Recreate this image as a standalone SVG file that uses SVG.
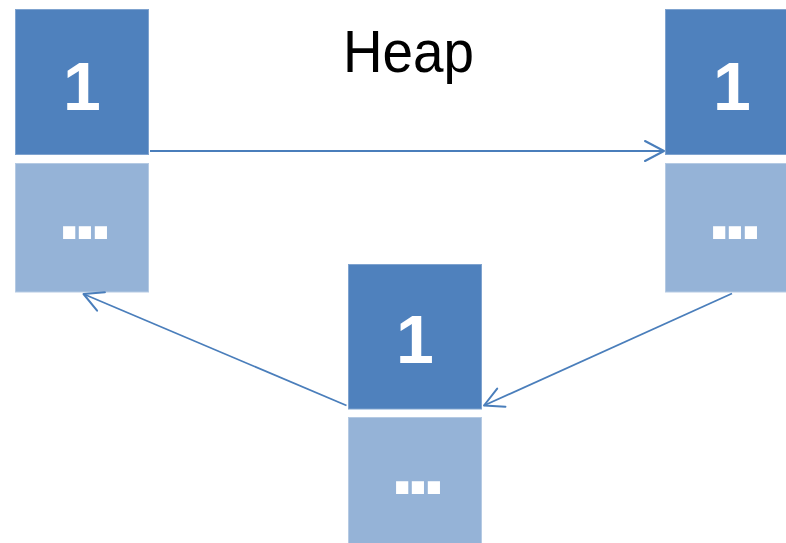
<svg xmlns="http://www.w3.org/2000/svg" width="786" height="543" viewBox="0 0 786 543">
<style>
.top{fill:#4F81BD;stroke:#7FA3CF;stroke-width:1}
.bot{fill:#95B3D7;stroke:#B5CAE3;stroke-width:1}
.num{font-family:"Liberation Sans",Arial,sans-serif;font-weight:bold;font-size:68px;fill:#ffffff;text-anchor:middle}
.dots{font-family:"Liberation Sans",Arial,sans-serif;font-weight:bold;font-size:86px;fill:#ffffff;text-anchor:middle;letter-spacing:-8px}
.title{font-family:"Liberation Sans",Arial,sans-serif;font-size:59px;fill:#000000}
.conn{stroke:#4A7EBB;stroke-width:1.8;fill:none}
</style>
<defs>
<marker id="arr" markerUnits="userSpaceOnUse" markerWidth="40" markerHeight="40" refX="0" refY="0" viewBox="-25 -20 30 40" orient="auto" overflow="visible">
<path d="M-19,-10 L0,0 L-19,10" fill="none" stroke="#4A7EBB" stroke-width="2" stroke-linecap="round" stroke-linejoin="round"/>
</marker>
</defs>
<rect width="786" height="543" fill="#ffffff"/>
<text class="title" x="343" y="72" textLength="131" lengthAdjust="spacingAndGlyphs">Heap</text>
<g id="node1">
<rect class="top" x="15.5" y="9.5" width="133" height="145"/>
<rect class="bot" x="15.5" y="163.5" width="133" height="128.5"/>
<text class="num" x="82" y="110">1</text>
<text class="dots" x="81" y="239">...</text>
</g>
<g id="node2">
<rect class="top" x="665.5" y="9.5" width="133" height="145"/>
<rect class="bot" x="665.5" y="163.5" width="133" height="128.5"/>
<text class="num" x="732" y="110">1</text>
<text class="dots" x="731" y="239">...</text>
</g>
<g id="node3">
<rect class="top" x="348.5" y="264.5" width="133" height="144.5"/>
<rect class="bot" x="348.5" y="417.5" width="133" height="130"/>
<text class="num" x="415" y="363">1</text>
<text class="dots" x="414" y="494">...</text>
</g>
<g id="connectors">
<line class="conn" x1="150" y1="151" x2="664" y2="151" marker-end="url(#arr)"/>
<line class="conn" x1="732" y1="293.5" x2="484" y2="405.5" marker-end="url(#arr)"/>
<line class="conn" x1="346.5" y1="405.5" x2="83.5" y2="294" marker-end="url(#arr)"/>
</g>
</svg>
